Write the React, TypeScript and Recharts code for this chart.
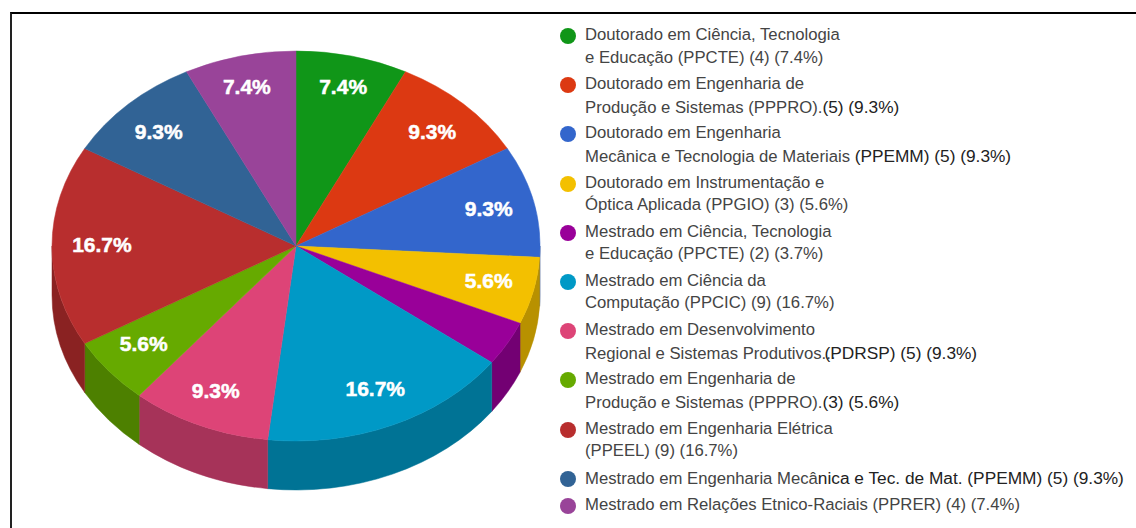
import { Legend, Pie, PieChart } from "recharts";

const programs = [
  "Doutorado PPCTE",
  "Doutorado PPPRO",
  "Doutorado PPEMM",
  "Doutorado PPGIO",
  "Mestrado PPCTE",
  "Mestrado PPCIC",
  "Mestrado PDRSP",
  "Mestrado PPPRO",
  "Mestrado PPEEL",
  "Mestrado PPEMM",
  "Mestrado PPRER",
];
const counts = [4, 5, 5, 3, 2, 9, 5, 3, 9, 5, 4];

// legend text: [first line, second line, darker tail drawn after the second line]
const legendLines: string[][] = [
  ["Doutorado em Ciência, Tecnologia", "e Educação (PPCTE) (4) (7.4%)", ""],
  ["Doutorado em Engenharia de", "Produção e Sistemas (PPPRO).", "(5) (9.3%)"],
  ["Doutorado em Engenharia", "Mecânica e Tecnologia de Materiais ", "(PPEMM) (5) (9.3%)"],
  ["Doutorado em Instrumentação e", "Óptica Aplicada (PPGIO) (3) (5.6%)", ""],
  ["Mestrado em Ciência, Tecnologia", "e Educação (PPCTE) (2) (3.7%)", ""],
  ["Mestrado em Ciência da", "Computação (PPCIC) (9) (16.7%)", ""],
  ["Mestrado em Desenvolvimento", "Regional e Sistemas Produtivos...", "(PDRSP) (5) (9.3%)"],
  ["Mestrado em Engenharia de", "Produção e Sistemas (PPPRO).", "(3) (5.6%)"],
  ["Mestrado em Engenharia Elétrica", "(PPEEL) (9) (16.7%)", ""],
  ["Mestrado em Engenharia Mecâ", "", "nica e Tec. de Mat. (PPEMM) (5) (9.3%)"],
  ["Mestrado em Relações Etnico-Raciais (PPRER) (4) (7.4%)", "", ""],
];

const colors = [
  "#109618",
  "#dc3912",
  "#3366cc",
  "#f3c000",
  "#990099",
  "#0099c6",
  "#dd4477",
  "#66aa00",
  "#b82e2e",
  "#316395",
  "#994499",
];
const sideColors = [
  "#0c7112",
  "#a52b0e",
  "#264c99",
  "#b89100",
  "#730073",
  "#007395",
  "#a63359",
  "#4d8000",
  "#8a2222",
  "#254a70",
  "#733373",
];

// small per-label shifts, the original places them a bit unevenly
const labelNudge = [
  [1, -3],
  [-1, 3],
  [-2, 0],
  [-2, -1],
  [0, 0],
  [0, -3],
  [-1, -1],
  [1, -4],
  [6, -1],
  [0, 3],
  [-3, -3],
];

const total = counts.reduce((a, b) => a + b, 0);
const topData = programs.map((name, i) => ({ name, value: counts[i], fill: colors[i] }));
const sideData = programs.map((name, i) => ({ name, value: counts[i], fill: sideColors[i] }));

const CX = 296;
const CY = 246;
const RX = 244;
const RY = 195;
const DEPTH = 49;
const rad = Math.PI / 180;

function pt(angle: number, dy = 0) {
  return `${CX + RX * Math.cos(angle * rad)} ${CY + dy - RY * Math.sin(angle * rad)}`;
}

// pie face squashed to an ellipse
function TopSlice({ startAngle, endAngle, fill }: any) {
  const large = startAngle - endAngle > 180 ? 1 : 0;
  const d = `M ${CX} ${CY} L ${pt(startAngle)} A ${RX} ${RY} 0 ${large} 1 ${pt(endAngle)} Z`;
  return <path d={d} fill={fill} stroke={fill} strokeWidth={0.5} />;
}

// rim below the face, only the front half shows
function SideSlice({ startAngle, endAngle, fill }: any) {
  const hi = Math.min(startAngle, 0);
  const lo = Math.max(endAngle, -180);
  if (hi <= lo) return null;
  const d =
    `M ${pt(hi)} A ${RX} ${RY} 0 0 1 ${pt(lo)} ` +
    `L ${pt(lo, DEPTH)} A ${RX} ${RY} 0 0 0 ${pt(hi, DEPTH)} Z`;
  return <path d={d} fill={fill} stroke={fill} strokeWidth={0.5} />;
}

function PercentLabel({ midAngle, value, index }: any) {
  const share = (value / total) * 100;
  if (share < 5) return null; // thin slices carry no label
  const [nx, ny] = labelNudge[index] ?? [0, 0];
  const x = CX + nx + 0.82 * RX * Math.cos(midAngle * rad);
  const y = CY - 1 + ny - 0.82 * RY * Math.sin(midAngle * rad);
  return (
    <text
      x={x}
      y={y}
      fill="#fff"
      stroke="#fff"
      strokeWidth={0.5}
      fontFamily="'Liberation Sans', Arial, sans-serif"
      fontWeight="bold"
      fontSize={21}
      textAnchor="middle"
      dominantBaseline="central"
    >
      {share.toFixed(1)}%
    </text>
  );
}

function ProgramLegend() {
  const tailStyle = { color: "#222", fontSize: 17.3 };
  return (
    <div style={{ fontFamily: "'Liberation Sans', Arial, sans-serif", fontSize: 16.7, lineHeight: "22.5px", color: "#444" }}>
      {legendLines.map(([first, second, tail], i) => (
        <div key={i} style={{ position: "relative", paddingLeft: 24, marginBottom: i === 9 ? 4.5 : 4.2, whiteSpace: "nowrap" }}>
          <span
            style={{
              position: "absolute",
              left: -1,
              top: 4,
              width: 16,
              height: 16,
              borderRadius: "50%",
              background: colors[i],
            }}
          />
          <div style={{ height: 22.5 }}>
            {first}
            {!second && tail ? <span style={tailStyle}>{tail}</span> : null}
          </div>
          {second ? (
            <div style={{ height: 22.5 }}>
              {second}
              {tail ? <span style={{ ...tailStyle, marginLeft: i === 6 ? -11 : 0 }}>{tail}</span> : null}
            </div>
          ) : null}
        </div>
      ))}
    </div>
  );
}

export default function App() {
  return (
    <div style={{ position: "absolute", left: 0, top: 0, width: 1136, height: 528, overflow: "hidden", background: "#fff" }}>
      <div
        style={{
          position: "absolute",
          left: 10,
          top: 12,
          width: 1126,
          height: 516,
          borderTop: "2px solid #000",
          borderLeft: "2px solid #222",
          boxSizing: "border-box",
        }}
      />
      <PieChart width={1136} height={528} margin={{ top: 0, right: 0, bottom: 0, left: 0 }}>
        <Pie
          data={sideData}
          dataKey="value"
          nameKey="name"
          cx={CX}
          cy={CY}
          outerRadius={RX}
          startAngle={90}
          endAngle={-270}
          paddingAngle={0}
          shape={SideSlice}
          legendType="none"
          isAnimationActive={false}
        />
        <Pie
          data={topData}
          dataKey="value"
          nameKey="name"
          cx={CX}
          cy={CY}
          outerRadius={RX}
          startAngle={90}
          endAngle={-270}
          paddingAngle={0}
          shape={TopSlice}
          label={PercentLabel}
          labelLine={false}
          isAnimationActive={false}
        />
        <Legend
          layout="vertical"
          align="left"
          verticalAlign="top"
          content={() => <ProgramLegend />}
          wrapperStyle={{ left: 561, top: 24, width: 570 }}
        />
      </PieChart>
    </div>
  );
}
